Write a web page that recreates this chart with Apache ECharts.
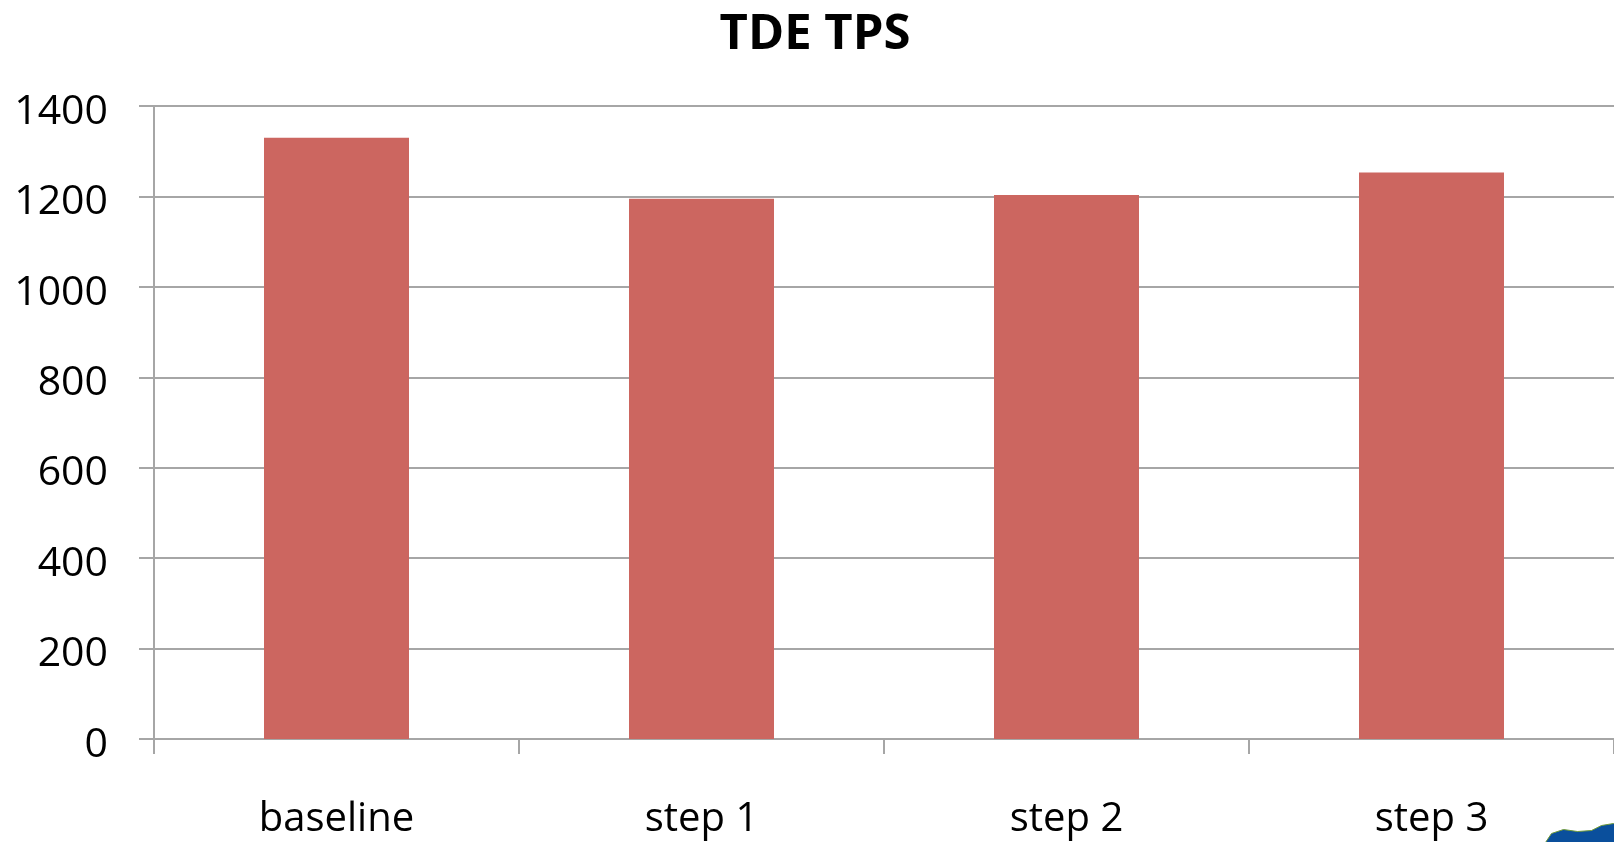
<!DOCTYPE html>
<html>
<head>
<meta charset="utf-8">
<title>TDE TPS</title>
<script src="https://cdn.jsdelivr.net/npm/echarts@6/dist/echarts.min.js"></script>
<style>
  html, body { margin: 0; padding: 0; background: #ffffff; }
  #chart { width: 1614px; height: 842px; }
</style>
</head>
<body>
<div id="chart"></div>
<script>
// Transactions per second for each TDE build step
const categories = ['baseline', 'step 1', 'step 2', 'step 3'];
const tpsValues = [1330, 1195, 1203, 1253];
const yTicks = { min: 0, max: 1400, interval: 200 };

const FONT = '"Open Sans", "Noto Sans", sans-serif';
const GRID_GREY = '#a6a6a6';

const chart = echarts.init(document.getElementById('chart'), null, { renderer: 'canvas' });

chart.setOption({
  animation: false,
  backgroundColor: '#ffffff',
  title: {
    text: 'TDE TPS',
    left: 810,
    textAlign: 'center',
    top: 6,
    textStyle: { fontFamily: FONT, fontWeight: 'bold', fontSize: 49, color: '#000000' }
  },
  grid: { left: 154, right: -7, top: 106, bottom: 103, containLabel: false },
  xAxis: {
    type: 'category',
    data: categories,
    axisLine: { show: true, lineStyle: { color: GRID_GREY, width: 2 } },
    axisTick: { show: true, length: 15, lineStyle: { color: GRID_GREY, width: 2 } },
    axisLabel: { margin: 61, fontFamily: FONT, fontSize: 40, color: '#000000' },
    splitLine: { show: false }
  },
  yAxis: {
    type: 'value',
    min: yTicks.min,
    max: yTicks.max,
    interval: yTicks.interval,
    axisLine: { show: true, lineStyle: { color: GRID_GREY, width: 2 } },
    axisTick: { show: true, length: 15, lineStyle: { color: GRID_GREY, width: 2 } },
    axisLabel: {
      margin: 46,
      fontFamily: FONT,
      fontSize: 41,
      color: '#000000',
      verticalAlign: 'top',
      lineHeight: 12,
      formatter: (v) => String(v)
    },
    splitLine: { show: true, lineStyle: { color: GRID_GREY, width: 2 } }
  },
  series: [{
    type: 'bar',
    data: tpsValues,
    barWidth: 145,
    itemStyle: { color: '#cc6660' }
  }],
  graphic: [{
    // corner logo fragment
    type: 'polygon',
    right: -10,
    bottom: -6,
    shape: {
      points: [[0, 22], [8, 10], [20, 6], [34, 8], [48, 7], [58, 2], [70, 0], [80, 4], [80, 24], [0, 24]]
    },
    style: { fill: '#0a4f9c', stroke: '#6f9a3a', lineWidth: 1 }
  }]
});
</script>
</body>
</html>
